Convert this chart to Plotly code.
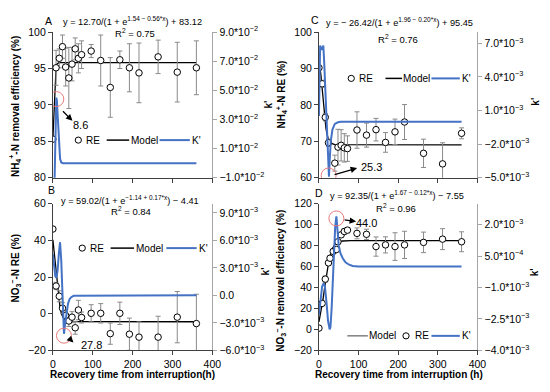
import plotly.graph_objects as go

W, H = 550, 392
FONT = "Liberation Sans"

# ---------------- data ----------------
# Panel A : NH4+-N removal efficiency
tA = [0, 8, 16, 24, 32, 40, 48, 56, 64, 72, 96, 120, 144, 168, 192, 216, 264, 312, 360]
reA = [85.3, 95.1, 96.4, 98.0, 95.2, 93.7, 95.6, 97.7, 96.4, 96.9, 97.4, 96.1, 92.4, 96.2, 95.1, 94.4, 96.6, 94.5, 95.1]
errA = [0, 2.4, 1.3, 1.6, 2.6, 4.2, 2.3, 1.5, 2.0, 1.9, 0.9, 3.5, 4.1, 1.2, 3.3, 4.1, 2.3, 4.1, 3.7]
modelA_t = [0, 1, 2, 3, 4, 5, 6, 8, 10, 15, 360]
modelA = [85.36, 86.59, 88.16, 89.91, 91.6, 93.0, 94.05, 95.18, 95.6, 95.8, 95.82]
kA_t = [4, 6, 7.5, 8.6, 10, 12, 14, 16, 18, 21, 25, 360]
kA = [-0.015, 0.01, 0.035, 0.045, 0.043, 0.033, 0.020, 0.009, 0.003, 0.0005, 0.0, 0.0]

# Panel B : NO3--N RE
tB = [0, 8, 16, 24, 32, 40, 48, 56, 64, 72, 96, 120, 144, 168, 192, 216, 264, 312, 360]
reB = [46.2, 15.1, 9.5, 3.0, -1.0, -4.0, -1.9, -7.7, 2.0, -2.1, 0.2, 0.2, -10.9, 0.2, -11.2, -12.8, -12.8, -1.9, -5.4]
errB = [0, 2, 3, 3, 3, 3, 3, 3.5, 5.3, 3, 4.7, 5.3, 5.8, 6.1, 8.8, 8.3, 11.4, 14, 16]
modelB_t = [0, 3, 6, 9, 12, 15, 18, 21, 24, 30, 36, 48, 360]
modelB = [40.3, 34.1, 26.9, 19.4, 12.65, 7.16, 3.14, 0.36, -1.44, -3.31, -4.0, -4.36, -4.41]
kB_t = [0, 3, 6, 9, 12, 15, 18, 21, 24, 27.8, 31, 34, 38, 42, 46, 52, 360]
kB = [0.0045, 0.0030, 0.0021, 0.0019, 0.0028, 0.0046, 0.0058, 0.0038, -0.0005, -0.0042, -0.0030, -0.0020, -0.0009,
      -0.0004, -0.0002, -0.00005, 0.0]

# Panel C : NH4+-N RE
tC = [0, 8, 16, 24, 40, 48, 56, 64, 72, 96, 120, 144, 168, 192, 216, 264, 312, 360]
reC = [90.2, 85.8, 76.6, 69.6, 64.0, 68.4, 68.9, 68.2, 68.0, 73.1, 71.7, 73.2, 69.7, 72.6, 75.3, 66.7, 63.8, 72.2]
errC = [0, 1, 1, 1, 2.2, 4.9, 4.3, 3.9, 3.5, 5.0, 3.3, 3.1, 2.7, 3.5, 4.8, 3.9, 5.8, 1.5]
modelC_t = [0, 2.5, 5, 7.5, 10, 12.5, 15, 17.5, 20, 25, 30, 40, 360]
modelC = [92.2, 90.47, 88.1, 85.2, 82.0, 78.8, 75.9, 73.7, 72.1, 70.2, 69.5, 69.1, 69.03]
kC_t = [0, 1.5, 3, 7, 11, 13, 16, 19, 22, 24.5, 25.3, 27, 30, 34, 40, 48, 55, 360]
kC = [0.0005, 0.005, 0.0068, 0.0064, 0.0068, 0.0055, 0.0028, 0.0, -0.0028, -0.0047, -0.0049, -0.0035, -0.0017,
      -0.0007, -0.0002, -0.00005, 0.0, 0.0]

# Panel D : NO3--N removal efficiency
tD = [0, 8, 16, 24, 28, 36, 44, 48, 56, 64, 72, 96, 120, 144, 168, 192, 216, 264, 312, 360]
reD = [1.2, 24.8, 48.0, 63.5, 68.0, 74.5, 76.3, 83.7, 90.3, 93.5, 94.8, 91.7, 90.8, 79.1, 80.7, 79.1, 80.7, 83.1, 86.2, 83.7]
errD = [0, 2, 3, 2, 2, 2, 2, 2, 2, 2.5, 2.5, 5.2, 4.9, 9.2, 7.7, 13.2, 13, 9.8, 10, 9.5]
modelD_t = [0, 5, 10, 15, 20, 25, 30, 35, 40, 50, 60, 80, 360]
modelD = [7.1, 16.0, 28.0, 41.6, 54.8, 65.5, 73.1, 78.0, 80.9, 83.6, 84.4, 84.77, 84.8]
kD_t = [0, 4, 8, 12, 15, 19, 23, 27, 29, 32, 35, 38, 41, 44, 47, 50, 54, 60, 67, 75, 85, 100, 360]
kD = [-0.0023, -0.0015, -0.00095, -0.0008, -0.00095, -0.0017, -0.0026, -0.0030, -0.0029, -0.0020, -0.0006, 0.0008,
      0.0019, 0.0024, 0.0016, 0.0010, 0.00065, 0.0004, 0.0002, 0.0001, 0.00003, 0.0, 0.0]

# tick labels
x_ticks = [0, 100, 200, 300, 400]
kA_ticks = [-0.01, 0.01, 0.03, 0.05, 0.07, 0.09]
kA_text = ["−1.0*10<sup>−2</sup>", "1.0*10<sup>−2</sup>", "3.0*10<sup>−2</sup>", "5.0*10<sup>−2</sup>",
           "7.0*10<sup>−2</sup>", "9.0*10<sup>−2</sup>"]
kB_ticks = [-0.006, -0.003, 0.0, 0.003, 0.006, 0.009]
kB_text = ["−6.0*10<sup>−3</sup>", "−3.0*10<sup>−3</sup>", "0.0", "3.0*10<sup>−3</sup>", "6.0*10<sup>−3</sup>",
           "9.0*10<sup>−3</sup>"]
kC_ticks = [-0.005, -0.002, 0.001, 0.004, 0.007]
kC_text = ["−5.0*10<sup>−3</sup>", "−2.0*10<sup>−3</sup>", "1.0*10<sup>−3</sup>", "4.0*10<sup>−3</sup>",
           "7.0*10<sup>−3</sup>"]
kD_ticks = [-0.004, -0.0025, -0.001, 0.0005, 0.002]
kD_text = ["−4.0*10<sup>−3</sup>", "−2.5*10<sup>−3</sup>", "−1.0*10<sup>−3</sup>", "5.0*10<sup>−4</sup>",
           "2.0*10<sup>−3</sup>"]

# ---------------- helpers ----------------
def X(px):
    return px / W


def Y(py):
    return 1 - py / H


BLUE = "#4472C4"
fig = go.Figure()

panels = [
    dict(x="x", yl="y", yr="y2", t=tA, re=reA, err=errA, mt=modelA_t, m=modelA, kt=kA_t, k=kA),
    dict(x="x2", yl="y3", yr="y4", t=tB, re=reB, err=errB, mt=modelB_t, m=modelB, kt=kB_t, k=kB),
    dict(x="x3", yl="y5", yr="y6", t=tC, re=reC, err=errC, mt=modelC_t, m=modelC, kt=kC_t, k=kC),
    dict(x="x4", yl="y7", yr="y8", t=tD, re=reD, err=errD, mt=modelD_t, m=modelD, kt=kD_t, k=kD),
]

for p in panels:
    fig.add_trace(go.Scatter(x=p["mt"], y=p["m"], mode="lines", xaxis=p["x"], yaxis=p["yl"],
                             line=dict(color="#000000", width=1.3), hoverinfo="skip"))
    fig.add_trace(go.Scatter(x=p["t"], y=p["re"], mode="markers", xaxis=p["x"], yaxis=p["yl"],
                             marker=dict(symbol="circle", size=6.5, color="white",
                                         line=dict(color="#000000", width=1)),
                             error_y=dict(type="data", array=p["err"], color="#8a8a8a", thickness=1, width=2.5)))
    fig.add_trace(go.Scatter(x=p["kt"], y=p["k"], mode="lines", xaxis=p["x"], yaxis=p["yr"],
                             line=dict(color=BLUE, width=2), hoverinfo="skip"))

tickfont = dict(family=FONT, size=10.5, color="#000000")
LCOL = (51, 214)
RCOL = (323, 485)
TROW = (176, 25)
BROW = (355, 203)


def xax(col, row_anchor, labels):
    return dict(domain=[X(col[0]), X(col[1])], anchor=row_anchor, range=[0, 400], tickvals=x_ticks,
                showticklabels=labels, showgrid=False, zeroline=False, showline=True, linecolor="#404040",
                linewidth=1, ticks="outside", ticklen=4, tickcolor="#404040", tickfont=tickfont)


def yleft(row, anchor, rng, dtick):
    return dict(domain=[Y(row[0]), Y(row[1])], anchor=anchor, range=rng, dtick=dtick, showgrid=False,
                zeroline=False, showline=True, linecolor="#404040", linewidth=1, ticks="outside", ticklen=4,
                tickcolor="#404040", tickfont=tickfont)


def yright(over, anchor, rng, vals, text):
    return dict(overlaying=over, anchor=anchor, side="right", range=rng, tickvals=vals, ticktext=text,
                showgrid=False, zeroline=False, showline=True, linecolor="#a6a6a6", linewidth=1, ticks="outside",
                ticklen=4, tickcolor="#a6a6a6", tickfont=tickfont)


fig.update_layout(
    width=W, height=H, margin=dict(l=0, r=0, t=0, b=0), paper_bgcolor="white", plot_bgcolor="white",
    showlegend=False,
    xaxis=xax(LCOL, "y", False),
    xaxis2=xax(LCOL, "y3", True),
    xaxis3=xax(RCOL, "y5", False),
    xaxis4=xax(RCOL, "y7", True),
    yaxis=yleft(TROW, "x", [80, 100], 5),
    yaxis2=yright("y", "x", [-0.01, 0.09], kA_ticks, kA_text),
    yaxis3=yleft(BROW, "x2", [-20, 60], 20),
    yaxis4=yright("y3", "x2", [-0.006, 0.010], kB_ticks, kB_text),
    yaxis5=yleft(TROW, "x3", [60, 100], 10),
    yaxis6=yright("y5", "x3", [-0.005, 0.008], kC_ticks, kC_text),
    yaxis7=yleft(BROW, "x4", [-20, 120], 20),
    yaxis8=yright("y7", "x4", [-0.004, 0.003], kD_ticks, kD_text),
)

annotations = []
shapes = []


def text(px, py, s, size=10, bold=False, angle=0, xanchor="center", color="#000000"):
    if bold:
        s = "<b>" + s + "</b>"
    annotations.append(dict(x=X(px), y=Y(py), xref="paper", yref="paper", text=s, showarrow=False,
                            xanchor=xanchor, yanchor="middle", textangle=angle,
                            font=dict(family=FONT, size=size, color=color)))


# panel letters, equations, R2
EQ = 9.2
text(47, 13, "A", 10.5)
text(132, 13, "y = 12.70/(1 + e<sup>1.54 − 0.56*x</sup>) + 83.12", EQ)
text(135, 26, "R<sup>2</sup> = 0.75", 9.5)
text(50, 189, "B", 10.5)
text(130, 199.5, "y = 59.02/(1 + e<sup>−1.14 + 0.17*x</sup>) − 4.41", EQ)
text(131, 211, "R<sup>2</sup> = 0.84", 9.5)
text(319, 12, "C", 10.5)
text(405, 15, "y = − 26.42/(1 + e<sup>1.96 − 0.20*x</sup>) + 95.45", EQ)
text(404, 32, "R<sup>2</sup> = 0.76", 9.5)
text(323, 192, "D", 10.5)
text(403, 194, "y = 92.35/(1 + e<sup>1.67 − 0.12*x</sup>) − 7.55", EQ)
text(402, 207, "R<sup>2</sup> = 0.96", 9.5)

# axis titles
text(12, 102, "NH<sub>4</sub><sup>+</sup>-N removal efficiency (%)", 10, True, -90)
text(12.5, 270, "NO<sub>3</sub><sup>−</sup>-N RE (%)", 10, True, -90)
text(285, 90, "NH<sub>4</sub><sup>+</sup>-N RE (%)", 10, True, -90)
text(284, 283, "NO<sub>3</sub><sup>−</sup>-N removal efficiency (%)", 10, True, -90)
text(132, 380, "Recovery time from interruption(h)", 10, True)
text(405, 380, "Recovery time from interruption (h)", 10, True)
text(271, 100, "k'", 10, True, -90)
text(268, 273, "k'", 10, True, -90)
text(544, 97, "k'", 10, True, -90)
text(543, 274, "k'", 10, True, -90)


# legends (drawn by hand)
def leg_marker(cx, cy):
    shapes.append(dict(type="circle", xref="paper", yref="paper", x0=X(cx - 3.2), x1=X(cx + 3.2),
                       y0=Y(cy + 3.2), y1=Y(cy - 3.2), line=dict(color="#000000", width=1), fillcolor="white"))


def leg_line(x0, x1, cy, color, width):
    shapes.append(dict(type="line", xref="paper", yref="paper", x0=X(x0), x1=X(x1), y0=Y(cy), y1=Y(cy),
                       line=dict(color=color, width=width)))


def leg_text(px, py, s):
    text(px, py, s, 10, False, 0, "left")


# A
leg_marker(77, 137); leg_text(83, 137, "RE")
leg_line(106, 129, 137, "#000000", 1.5); leg_text(129, 137, "Model")
leg_line(160, 191, 137, BLUE, 2); leg_text(191, 137, "K'")
# B
leg_marker(81, 249); leg_text(87, 249, "RE")
leg_line(110, 134, 249, "#000000", 1.5); leg_text(134, 249, "Model")
leg_line(167, 198, 249, BLUE, 2); leg_text(198, 249, "K'")
# C
leg_marker(356, 73); leg_text(362, 73, "RE")
leg_line(391, 408, 73, "#000000", 1.5); leg_text(407, 73, "Model")
leg_line(438, 467, 73, BLUE, 2); leg_text(467, 73, "K'")
# D
leg_line(352, 373, 340, "#606060", 1.2); leg_text(372, 340, "Model")
leg_marker(412, 340); leg_text(419, 340, "RE")
leg_line(438, 467, 340, BLUE, 2); leg_text(467, 340, "K'")

# highlighted K' extremes: red circles, arrows and labels
for xr, yr, cx, cy in [("x", "y2", 8.6, 0.044), ("x2", "y4", 27.8, -0.0044),
                       ("x3", "y6", 24.5, -0.0048), ("x4", "y8", 44.0, 0.0023)]:
    shapes.append(dict(type="circle", xref=xr, yref=yr, xsizemode="pixel", ysizemode="pixel",
                       xanchor=cx, yanchor=cy, x0=-7.5, x1=7.5, y0=-7.5, y1=7.5,
                       line=dict(color="#e8797a", width=1)))


def arrow(hx, hy, tx, ty):
    annotations.append(dict(x=X(hx), y=Y(hy), xref="paper", yref="paper", ax=tx - hx, ay=ty - hy,
                            axref="pixel", ayref="pixel", text="", showarrow=True, arrowhead=2,
                            arrowsize=1, arrowwidth=1.3, arrowcolor="#000000"))


arrow(71, 117, 60, 106)
text(79, 121, "8.6", 11)
arrow(72, 347, 66, 341)
text(90, 349, "27.8", 11)
arrow(362, 166, 338, 173)
text(377, 165, "25.3", 11)
arrow(361, 221.5, 348, 219.5)
text(372, 222.5, "44.0", 11)

fig.update_layout(annotations=annotations, shapes=shapes)
fig.write_html("out.html", config={"responsive": False, "displayModeBar": False},
               post_script="document.body.style.margin='0';document.body.style.padding='0';")
